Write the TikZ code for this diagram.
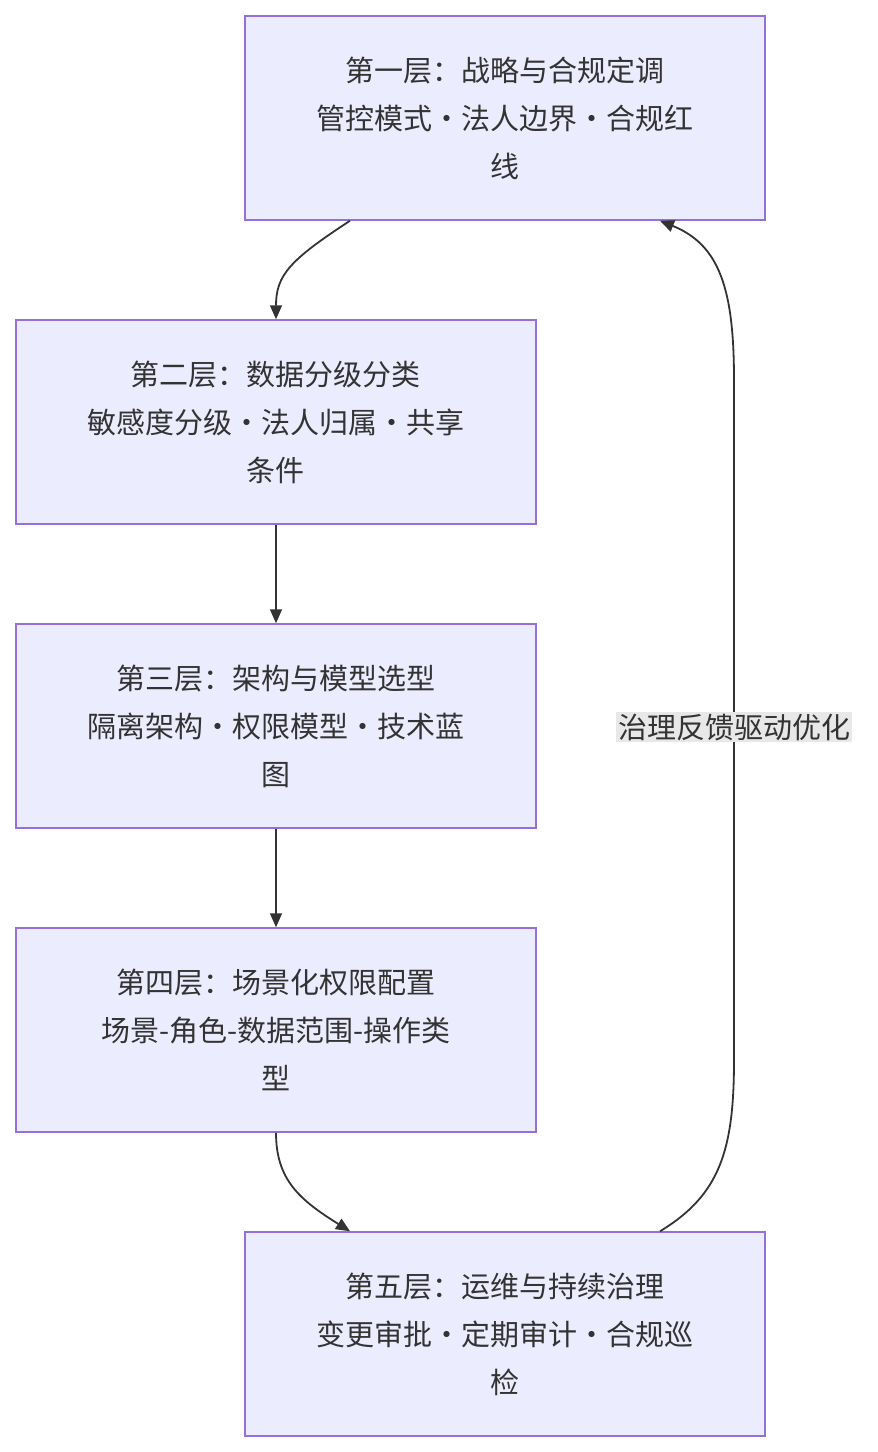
\documentclass[tikz,border=0pt]{standalone}
\usepackage{fontspec}
\setmainfont{Noto Sans CJK SC}
\usetikzlibrary{arrows.meta}
\definecolor{bx}{HTML}{ECECFF}
\definecolor{bd}{HTML}{9370DB}
\definecolor{tx}{HTML}{333333}
\begin{document}
\begin{tikzpicture}[x=1pt,y=-1pt,
 box/.style={draw=bd,fill=bx,line width=1.5pt,minimum width=520pt,minimum height=204pt,align=center,text=tx,font=\fontsize{29}{48}\selectfont,inner sep=0pt},
 ar/.style={draw=tx,line width=1.8pt,-{Triangle[length=14pt,width=12pt]}}]
\useasboundingbox (0,0) rectangle (878,1452);
\node[box] (a) at (505,118) {第一层：战略与合规定调\\管控模式·法人边界·合规红\\线};
\node[box] (b) at (276,422) {第二层：数据分级分类\\敏感度分级·法人归属·共享\\条件};
\node[box] (c) at (276,726) {第三层：架构与模型选型\\隔离架构·权限模型·技术蓝\\图};
\node[box] (d) at (276,1030) {第四层：场景化权限配置\\场景-角色-数据范围-操作类\\型};
\node[box] (e) at (505,1334) {第五层：运维与持续治理\\变更审批·定期审计·合规巡\\检};
\draw[ar] ([xshift=-155pt]a.south) .. controls (290,260) and (276,275) .. (b.north);
\draw[ar] (b) -- (c);
\draw[ar] (c) -- (d);
\draw[ar] (d.south) .. controls (276,1180) and (300,1200) .. ([xshift=-155pt]e.north);
\draw[ar] ([xshift=155pt]e.north) .. controls (720,1195) and (734,1150) .. (734,1060) -- (734,380) .. controls (734,290) and (720,245) .. ([xshift=155pt]a.south);
\node[fill=black!9,text=tx,font=\fontsize{29}{36}\selectfont,inner sep=2pt] (l) at (734,727) {治理反馈驱动优化};
\end{tikzpicture}
\end{document}
